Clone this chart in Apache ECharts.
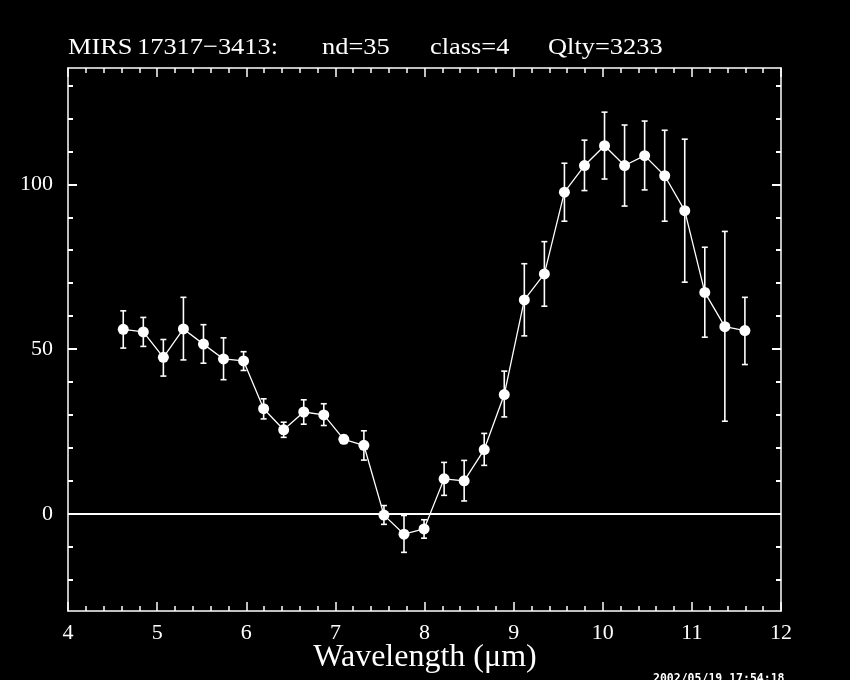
<!DOCTYPE html>
<html><head><meta charset="utf-8">
<script src="https://cdn.jsdelivr.net/npm/echarts@6/dist/echarts.min.js"></script>
<style>html,body{margin:0;padding:0;background:#000;}#c{width:850px;height:680px;}</style>
</head><body><div id="c"></div>
<script>
// Wavelength (micron) of each measurement
const wavelength = [4.62, 4.845, 5.07, 5.295, 5.52, 5.745, 5.97, 6.195, 6.42, 6.645, 6.87, 7.095, 7.32, 7.545, 7.77, 7.995,
  8.22, 8.445, 8.67, 8.895, 9.12, 9.345, 9.57, 9.795, 10.02, 10.245, 10.47, 10.695, 10.92, 11.145, 11.37, 11.595];
// Flux values
const flux = [56.0, 55.2, 47.5, 56.1, 51.5, 47.0, 46.4, 31.9, 25.5, 30.9, 30.0, 22.6, 20.8, -0.4, -6.2, -4.6,
  10.6, 10.0, 19.5, 36.2, 64.9, 72.8, 97.6, 105.7, 111.7, 105.7, 108.7, 102.6, 92.0, 67.2, 56.8, 55.6];
// Error bar upper ends
const fluxHigh = [61.6, 59.6, 52.9, 65.7, 57.4, 53.4, 49.2, 34.9, 27.8, 34.6, 33.4, 23.8, 25.2, 2.5, -0.5, -1.8,
  15.6, 16.2, 24.4, 43.3, 75.9, 82.6, 106.4, 113.4, 121.9, 118.0, 119.2, 116.4, 113.7, 80.9, 85.7, 65.7];
// Error bar lower ends
const fluxLow = [50.3, 50.8, 41.8, 46.7, 45.7, 40.7, 43.5, 28.8, 23.2, 27.2, 26.8, 21.4, 16.3, -3.2, -11.7, -7.4,
  5.6, 3.9, 14.7, 29.4, 54.0, 63.0, 88.8, 98.1, 101.6, 93.4, 98.3, 88.8, 70.3, 53.6, 28.1, 45.3];

const yMajorTicks = [0, 50, 100];
const yMinorTicks = [-20, -10, 10, 20, 30, 40, 60, 70, 80, 90, 110, 120, 130];
const titleParts = ['MIRS', '17317\u22123413:', 'nd=35', 'class=4', 'Qlty=3233'];
const xAxisTitle = 'Wavelength (\u03bcm)';
const timestamp = '2002/05/19 17:54:18';

const W = '#ffffff';
const FONT = '"Liberation Serif", "DejaVu Serif", serif';
const Y_MIN = -29.5, Y_MAX = 135.3;

const chart = echarts.init(document.getElementById('c'), null, {renderer: 'canvas'});

function yAx(pos, ticks, len, showLine, showLabel) {
  return {
    type: 'value', position: pos, min: Y_MIN, max: Y_MAX,
    axisLine: {show: showLine, lineStyle: {color: W, width: 1.5}},
    axisTick: {show: true, inside: true, length: len, customValues: ticks, lineStyle: {color: W, width: 2}},
    axisLabel: {show: showLabel, customValues: ticks, color: W, fontSize: 22, fontFamily: FONT, margin: 15},
    splitLine: {show: false}
  };
}
function xAx(pos, showLabel) {
  return {
    type: 'value', position: pos, min: 4, max: 12, interval: 1,
    axisLine: {show: true, onZero: false, lineStyle: {color: W, width: 1.5}},
    axisTick: {show: true, inside: true, length: 9, lineStyle: {color: W, width: 1.5}},
    minorTick: {show: true, splitNumber: 5, length: 5, lineStyle: {color: W, width: 1.5}},
    axisLabel: {show: showLabel, color: W, fontSize: 22, fontFamily: FONT, margin: 11},
    splitLine: {show: false}, minorSplitLine: {show: false}
  };
}

const titleX = [68, 137, 322, 430, 548];
const graphics = titleParts.map((t, i) => ({
  type: 'text', x: titleX[i], y: 36, scaleX: 1.1,
  style: {text: t, fill: W, font: '24px ' + FONT}
}));
graphics.push({type: 'text', left: 'center', top: 642,
  style: {text: xAxisTitle, fill: W, font: '32px ' + FONT}});
graphics.push({type: 'text', left: 653, top: 673,
  style: {text: timestamp, fill: W, font: 'bold 11.5px "DejaVu Sans Mono", monospace'}});

const points = wavelength.map((x, i) => [x, flux[i]]);
const errs = wavelength.map((x, i) => [x, fluxLow[i], fluxHigh[i]]);

chart.setOption({
  backgroundColor: '#000',
  animation: false,
  grid: {left: 68, right: 69, top: 68, bottom: 69},
  xAxis: [xAx('bottom', true), xAx('top', false)],
  yAxis: [
    yAx('left', yMajorTicks, 9, true, true),
    yAx('left', yMinorTicks, 5, false, false),
    yAx('right', yMajorTicks, 9, true, false),
    yAx('right', yMinorTicks, 5, false, false)
  ],
  graphic: graphics,
  series: [
    {
      type: 'custom', xAxisIndex: 0, yAxisIndex: 0, z: 3,
      data: errs,
      renderItem: function (params, api) {
        const x = api.value(0);
        const lo = api.coord([x, api.value(1)]);
        const hi = api.coord([x, api.value(2)]);
        const c = 3;
        const st = {stroke: W, lineWidth: 1.6};
        return {type: 'group', children: [
          {type: 'line', shape: {x1: lo[0], y1: lo[1], x2: hi[0], y2: hi[1]}, style: st},
          {type: 'line', shape: {x1: lo[0] - c, y1: lo[1], x2: lo[0] + c, y2: lo[1]}, style: st},
          {type: 'line', shape: {x1: hi[0] - c, y1: hi[1], x2: hi[0] + c, y2: hi[1]}, style: st}
        ]};
      }
    },
    {
      type: 'line', xAxisIndex: 0, yAxisIndex: 0, z: 4,
      data: points,
      symbol: 'circle', symbolSize: 11,
      lineStyle: {color: W, width: 1.3},
      itemStyle: {color: W},
      markLine: {
        silent: true, symbol: ['none', 'none'],
        label: {show: false},
        lineStyle: {color: W, width: 2, type: 'solid'},
        data: [{yAxis: 0}]
      }
    }
  ]
});
</script>
</body></html>
